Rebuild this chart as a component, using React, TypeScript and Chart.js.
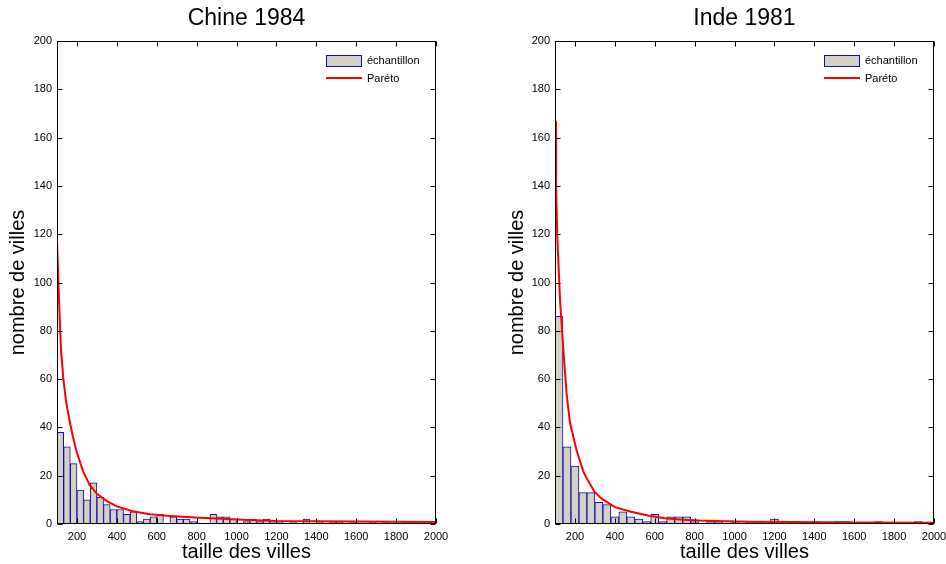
import React, { useEffect, useRef } from "react";
import { Chart, registerables } from "chart.js";

Chart.register(...registerables);

const FONT = 'Arial, "Liberation Sans", sans-serif';

const chinaTitle = "Chine 1984";
const indiaTitle = "Inde 1981";
const xTitle = "taille des villes";
const yTitle = "nombre de villes";
const legendLabels = ["échantillon", "Paréto"];

const xTicks = [200, 400, 600, 800, 1000, 1200, 1400, 1600, 1800, 2000];
const yTicks = [0, 20, 40, 60, 80, 100, 120, 140, 160, 180, 200];

const chinaBinStart = 100;
const chinaBinWidth = 100 / 3;
const chinaCounts = [
  38, 32, 25, 14, 10, 17, 11, 8, 6, 6, 4, 5, 1, 2, 3, 4, 0, 3, 2, 2,
  1, 0, 0, 4, 3, 3, 2, 0, 1, 2, 1, 2, 1, 1, 0, 1, 0, 2, 0, 1,
  0, 1, 1, 0, 1, 0, 0, 1, 0, 1, 0, 0, 1, 1, 0, 0, 1,
];
const chinaParetoX = [100, 110, 120, 132, 145, 160, 180, 198, 232, 265, 300, 350, 400, 480, 565, 650, 730, 815, 900, 980, 1060, 1200, 1400, 1600, 1800, 2000];
const chinaParetoY = [117, 93, 72, 60, 51, 44, 36, 30, 21.5, 16, 12.5, 9.5, 7.3, 5.3, 4, 3.4, 3, 2.6, 2.3, 2, 1.7, 1.2, 1.1, 1, 0.9, 0.8];

const indiaBinStart = 100;
const indiaBinWidth = 40;
const indiaCounts = [
  86, 32, 24, 13, 13, 9, 8, 3, 5, 3, 2, 1, 4, 1, 3, 3, 3, 1, 0, 1,
  1, 0, 1, 0, 1, 1, 0, 2, 0, 1, 0, 0, 1, 0, 0, 1, 1, 0, 0, 0,
  1, 0, 0, 0, 0, 1, 0, 0,
];
const indiaParetoX = [100, 105, 112, 125, 142, 158, 175, 208, 242, 265, 298, 332, 400, 482, 570, 650, 742, 825, 908, 1075, 1300, 1600, 2000];
const indiaParetoY = [167, 140, 118, 93, 72, 54, 42, 30.5, 21.7, 18, 13.4, 10.6, 7, 5.1, 3.4, 2.4, 1.8, 1.4, 1.2, 0.95, 0.8, 0.6, 0.5];

const framePlugin = {
  id: "matlabFrame",
  afterDatasetsDraw(chart: any) {
    const { ctx, chartArea, scales } = chart;
    const { left, right, top, bottom } = chartArea;
    const x = scales.x;
    const y = scales.y;
    const L = Math.round(left) + 0.5;
    const R = Math.round(right) - 0.5;
    const T = Math.round(top) + 0.5;
    const B = Math.round(bottom) - 0.5;
    ctx.save();
    ctx.strokeStyle = "#000";
    ctx.lineWidth = 1;
    ctx.strokeRect(L, T, R - L, B - T);
    ctx.beginPath();
    xTicks.forEach((v) => {
      const px = Math.round(x.getPixelForValue(v)) + 0.5;
      ctx.moveTo(px, B);
      ctx.lineTo(px, B - 5);
      ctx.moveTo(px, T);
      ctx.lineTo(px, T + 5);
    });
    yTicks.forEach((v) => {
      const py = Math.round(y.getPixelForValue(v)) + 0.5;
      ctx.moveTo(L, py);
      ctx.lineTo(L + 5, py);
      ctx.moveTo(R, py);
      ctx.lineTo(R - 5, py);
    });
    ctx.stroke();
    ctx.restore();
  },
  afterDraw(chart: any, _args: any, opts: any) {
    const { ctx, chartArea } = chart;
    const { left, right, top } = chartArea;
    ctx.save();
    ctx.fillStyle = "#000";
    ctx.font = `23px ${FONT}`;
    ctx.textAlign = "center";
    ctx.textBaseline = "middle";
    ctx.fillText(opts.title, (left + right) / 2, 19);
    const bx = Math.round(right) - 110;
    ctx.fillStyle = "#d4d0c8";
    ctx.fillRect(bx, top + 14, 36, 12);
    ctx.strokeStyle = "#1010a0";
    ctx.lineWidth = 1;
    ctx.strokeRect(bx + 0.5, top + 14.5, 35, 11);
    ctx.strokeStyle = "#ff0000";
    ctx.lineWidth = 2;
    ctx.beginPath();
    ctx.moveTo(bx, top + 37);
    ctx.lineTo(bx + 36, top + 37);
    ctx.stroke();
    ctx.fillStyle = "#000";
    ctx.font = `11px ${FONT}`;
    ctx.textAlign = "left";
    ctx.textBaseline = "middle";
    ctx.fillText(legendLabels[0], bx + 41, top + 20);
    ctx.fillText(legendLabels[1], bx + 41, top + 38);
    ctx.restore();
  },
};

type PanelProps = {
  title: string;
  counts: number[];
  binStart: number;
  binWidth: number;
  paretoX: number[];
  paretoY: number[];
  offsetLeft: number;
  yAxisWidth: number;
  yTitlePad: number;
  rightPad: number;
};

function Panel(props: PanelProps) {
  const ref = useRef<HTMLCanvasElement | null>(null);
  useEffect(() => {
    if (!ref.current) return;
    const barData = props.counts.map((c, i) => ({
      x: props.binStart + props.binWidth * (i + 0.5),
      y: c,
    }));
    const lineData = props.paretoX.map((v, i) => ({ x: v, y: props.paretoY[i] }));
    const chart = new Chart(ref.current, {
      type: "bar",
      data: {
        datasets: [
          {
            type: "line",
            label: legendLabels[1],
            data: lineData,
            borderColor: "#ff0000",
            borderWidth: 2,
            pointRadius: 0,
            tension: 0,
            fill: false,
            order: 0,
          } as any,
          {
            type: "bar",
            label: legendLabels[0],
            data: barData,
            backgroundColor: "#d4d0c8",
            borderColor: "#1010a0",
            borderWidth: 1,
            barPercentage: 1,
            categoryPercentage: 1,
            grouped: false,
            order: 1,
          } as any,
        ],
      },
      options: {
        responsive: false,
        animation: false,
        events: [],
        layout: { padding: { top: 41, right: props.rightPad, left: 0, bottom: 0 } },
        plugins: {
          legend: { display: false },
          tooltip: { enabled: false },
          title: { display: false },
          matlabFrame: { title: props.title },
        } as any,
        scales: {
          x: {
            type: "linear",
            min: 100,
            max: 2000,
            offset: false,
            grid: { display: false, drawTicks: false },
            border: { display: false },
            afterBuildTicks: (s: any) => {
              s.ticks = xTicks.map((v) => ({ value: v }));
            },
            afterFit: (s: any) => {
              s.height = 40;
              s.paddingLeft = 0;
              s.paddingRight = 0;
            },
            ticks: {
              padding: 6,
              color: "#000",
              font: { family: FONT, size: 11 },
              maxRotation: 0,
              autoSkip: false,
              callback: (v: any) => String(v),
            },
            title: {
              display: true,
              text: xTitle,
              color: "#000",
              font: { family: FONT, size: 20 },
              padding: { top: 0, bottom: 0 },
            },
          },
          y: {
            type: "linear",
            min: 0,
            max: 200,
            grid: { display: false, drawTicks: false },
            border: { display: false },
            afterBuildTicks: (s: any) => {
              s.ticks = yTicks.map((v) => ({ value: v }));
            },
            afterFit: (s: any) => {
              s.width = props.yAxisWidth;
              s.paddingTop = 0;
              s.paddingBottom = 0;
            },
            ticks: {
              padding: 5,
              color: "#000",
              font: { family: FONT, size: 11 },
              autoSkip: false,
              callback: (v: any) => String(v),
            },
            title: {
              display: true,
              text: yTitle,
              color: "#000",
              font: { family: FONT, size: 20 },
              padding: { top: props.yTitlePad, bottom: 0 },
            },
          },
        },
      } as any,
      plugins: [framePlugin],
    });
    return () => chart.destroy();
  }, []);
  return (
    <canvas
      ref={ref}
      width={473}
      height={564}
      style={{ position: "absolute", left: props.offsetLeft, top: 0, width: 473, height: 564 }}
    />
  );
}

export default function App() {
  return (
    <div
      style={{
        position: "fixed",
        left: 0,
        top: 0,
        width: 946,
        height: 564,
        background: "#fff",
        overflow: "hidden",
      }}
    >
      <Panel
        title={chinaTitle}
        counts={chinaCounts}
        binStart={chinaBinStart}
        binWidth={chinaBinWidth}
        paretoX={chinaParetoX}
        paretoY={chinaParetoY}
        offsetLeft={0}
        yAxisWidth={57}
        yTitlePad={6}
        rightPad={37}
      />
      <Panel
        title={indiaTitle}
        counts={indiaCounts}
        binStart={indiaBinStart}
        binWidth={indiaBinWidth}
        paretoX={indiaParetoX}
        paretoY={indiaParetoY}
        offsetLeft={473}
        yAxisWidth={82}
        yTitlePad={32}
        rightPad={12}
      />
    </div>
  );
}
